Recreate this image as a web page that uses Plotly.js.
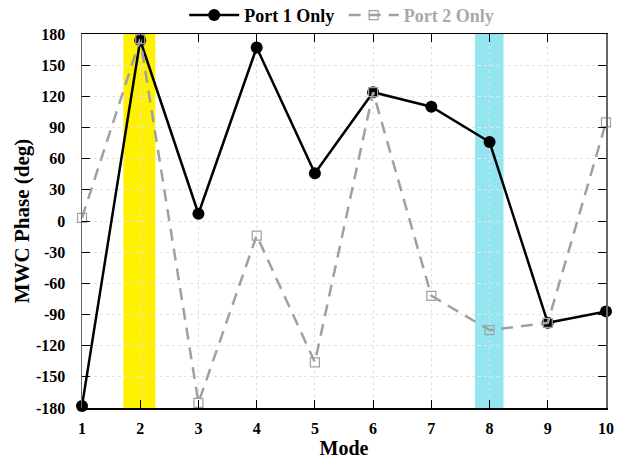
<!DOCTYPE html>
<html>
<head>
<meta charset="utf-8">
<script src="https://cdn.plot.ly/plotly-3.0.1.min.js"></script>
<style>html,body{margin:0;padding:0;background:#fff;}#chart{width:637px;height:459px;}</style>
</head>
<body>
<div id="chart"></div>
<script>
const modes = [1, 2, 3, 4, 5, 6, 7, 8, 9, 10];
const port1Only = [-178, 174, 7, 167, 46, 124, 110, 76, -98, -87];
const port2Only = [3, 175, -175, -14, -136, 124, -72, -105, -98, 95];
const yTicks = [-180, -150, -120, -90, -60, -30, 0, 30, 60, 90, 120, 150, 180];
const bands = [
  {from: 1.71, to: 2.26, color: '#fff200'},
  {from: 7.75, to: 8.24, color: '#93e6ef'}
];

const fam = 'Liberation Serif, Times New Roman, serif';

const traces = [
  {
    x: modes, y: port1Only, name: '<b>Port 1 Only</b>&nbsp;', type: 'scatter', mode: 'lines+markers',
    line: {color: '#000', width: 2.5},
    marker: {symbol: 'circle', size: 12, color: '#000'},
    cliponaxis: false
  },
  {
    x: modes, y: port2Only, name: '<b>Port 2 Only</b>', type: 'scatter', mode: 'lines+markers',
    line: {color: '#a0a0a0', width: 2.5, dash: '12px,8px'},
    marker: {symbol: 'square-open', size: 9, color: '#a0a0a0', line: {width: 1.2, color: '#a0a0a0'}},
    cliponaxis: false
  }
];

const shapes = bands.map(b => ({
  type: 'rect', xref: 'x', yref: 'paper', x0: b.from, x1: b.to, y0: 0, y1: 1,
  fillcolor: b.color, line: {width: 0}, layer: 'below'
}));

const layout = {
  width: 637, height: 459,
  margin: {l: 82, r: 31, t: 34, b: 51},
  paper_bgcolor: '#fff', plot_bgcolor: 'rgba(0,0,0,0)',
  font: {family: fam, size: 16, color: '#000'},
  showlegend: true,
  legend: {
    orientation: 'h', xref: 'paper', x: 0.195, xanchor: 'left',
    yref: 'container', y: 0.9665, yanchor: 'middle',
    font: {family: fam, size: 18},
    itemwidth: 50,
    bgcolor: 'rgba(0,0,0,0)'
  },
  xaxis: {
    range: [1, 10], tickmode: 'array', tickvals: modes, ticktext: modes.map(m => '<b>' + m + '</b>'),
    ticks: 'inside', ticklen: 8, tickcolor: '#000', tickwidth: 1,
    showline: true, linecolor: '#000', linewidth: 1.5, mirror: 'ticks',
    showgrid: true, gridcolor: '#e2e2e2', griddash: 'dot', gridwidth: 1,
    zeroline: false, ticklabelstandoff: 5,
    tickfont: {family: fam, size: 16, color: '#000'},
    title: {text: '<b>Mode</b>', font: {family: fam, size: 20, color: '#000'}, standoff: 5}
  },
  yaxis: {
    range: [-180, 180], tickmode: 'array', tickvals: yTicks, ticktext: yTicks.map(v => '<b>' + v + '</b>'),
    ticks: 'inside', ticklen: 8, tickcolor: '#000', tickwidth: 1,
    showline: true, linecolor: '#666', linewidth: 1.5, mirror: 'ticks',
    showgrid: true, gridcolor: '#e2e2e2', griddash: 'dot', gridwidth: 1,
    zeroline: false, ticklabelstandoff: 12,
    tickfont: {family: fam, size: 16, color: '#000'},
    title: {text: '<b>MWC Phase (deg)</b>', font: {family: fam, size: 21, color: '#000'}, standoff: 0}
  },
  shapes: shapes
};

Plotly.newPlot('chart', traces, layout, {displayModeBar: false, staticPlot: true}).then(() => {
  const texts = document.querySelectorAll('.legendtext');
  if (texts[1]) texts[1].style.fill = '#a8a8a8';
});
</script>
</body>
</html>
